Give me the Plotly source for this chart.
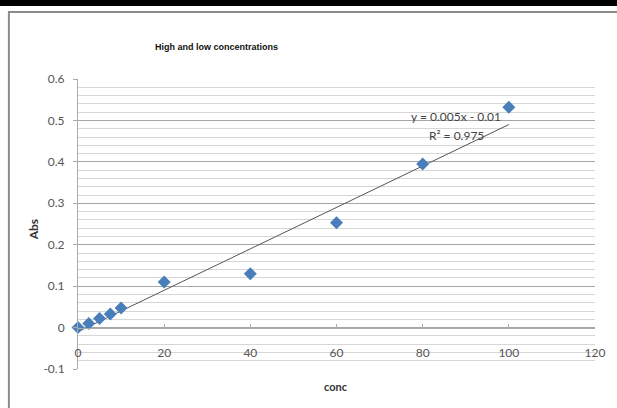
import plotly.graph_objects as go

# Absorbance readings by concentration
conc = [0, 2.5, 5, 7.5, 10, 20, 40, 60, 80, 100]
absorbance = [0.0, 0.01, 0.022, 0.033, 0.047, 0.11, 0.13, 0.253, 0.395, 0.532]

# Linear trendline parameters
slope = 0.005
intercept = -0.01
r_squared = 0.975
trend_x = [0, 100]
trend_y = [slope * x + intercept for x in trend_x]

x_ticks = [0, 20, 40, 60, 80, 100, 120]
y_ticks = [-0.1, 0, 0.1, 0.2, 0.3, 0.4, 0.5, 0.6]

W, H = 617, 408
L, R, T, B = 78, 19, 79, 39
pw, ph = W - L - R, H - T - B

def px(xpix):
    return (xpix - L) / pw

def py(ypix):
    return (H - B - ypix) / ph

fig = go.Figure()

fig.add_trace(go.Scatter(
    x=trend_x, y=trend_y, mode="lines",
    line=dict(color="#555555", width=1),
    hoverinfo="skip", showlegend=False, cliponaxis=False,
))
fig.add_trace(go.Scatter(
    x=conc, y=absorbance, mode="markers",
    marker=dict(symbol="diamond", size=10, color="#4a7ebb"),
    showlegend=False, cliponaxis=False,
))

tick_font = dict(family="Lato, sans-serif", size=12, color="#555555")

def label(text, x, y, size=11, angle=0, family="Lato, sans-serif", color="#444444"):
    return dict(text=text, xref="paper", yref="paper", x=px(x), y=py(y),
                xanchor="center", yanchor="middle", showarrow=False,
                textangle=angle, font=dict(family=family, size=size, color=color))

fig.update_layout(
    width=W, height=H,
    margin=dict(l=L, r=R, t=T, b=B),
    paper_bgcolor="white", plot_bgcolor="white",
    xaxis=dict(
        range=[0, 120], tickvals=x_ticks, ticktext=[str(v) for v in x_ticks],
        showgrid=False, zeroline=False,
        showline=True, linecolor="#aaaaaa", linewidth=1,
        ticks="inside", ticklen=4, tickcolor="#aaaaaa",
        anchor="free", position=(0 - (-0.1)) / 0.7,
        ticklabelstandoff=14,
        tickfont=tick_font,
    ),
    yaxis=dict(
        range=[-0.1, 0.6], tickvals=y_ticks,
        ticktext=["-0.1", "0", "0.1", "0.2", "0.3", "0.4", "0.5", "0.6"],
        showgrid=True, gridcolor="#a6a6a6", gridwidth=1,
        minor=dict(dtick=0.02, showgrid=True, gridcolor="#d6d6d6", gridwidth=1),
        zeroline=False,
        showline=True, linecolor="#aaaaaa", linewidth=1,
        ticks="outside", ticklen=4, tickcolor="#aaaaaa",
        ticklabelstandoff=6,
        tickfont=tick_font,
    ),
    shapes=[
        # heavy black band across the top
        dict(type="rect", xref="paper", yref="paper",
             x0=px(-10), x1=px(630), y0=py(6), y1=py(-5),
             fillcolor="black", line=dict(width=0), layer="above"),
        # chart frame
        dict(type="rect", xref="paper", yref="paper",
             x0=px(8.5), x1=px(640), y0=py(430), y1=py(12),
             fillcolor="rgba(0,0,0,0)", line=dict(color="#8c8c8c", width=2),
             layer="above"),
    ],
    annotations=[
        label("<b>High and low concentrations</b>", 217, 47, size=9,
              family="Liberation Sans Narrow, Liberation Sans, sans-serif", color="#111111"),
        label("<b>Abs</b>", 33, 230, size=12, angle=-90, color="#333333"),
        label("<b>conc</b>", 337, 386, size=11, color="#333333"),
        label(f"y = {slope}x - {abs(intercept)}", 458, 116, size=12),
        label(f"R² = {r_squared}", 459, 135, size=12),
    ],
)

fig.write_html("out.html")
